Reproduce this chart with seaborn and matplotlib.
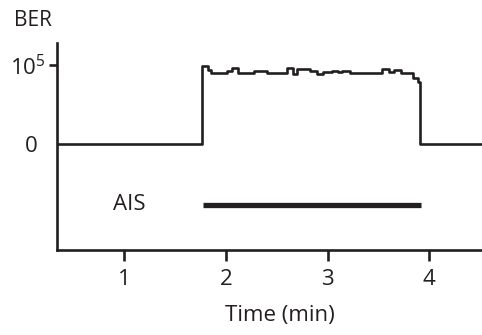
import numpy as np
import pandas as pd
import matplotlib
matplotlib.use("Agg")
import matplotlib.pyplot as plt
import matplotlib.transforms as mtransforms
import seaborn as sns

# BER trace (time in min, level in units of 10^5), step-post
tempo = [0.335, 1.765, 1.824, 1.854, 2.012, 2.061, 2.120, 2.278, 2.357, 2.406,
         2.603, 2.662, 2.702, 2.830, 2.899, 2.958, 3.047, 3.106, 3.145, 3.224,
         3.540, 3.600, 3.649, 3.718, 3.836, 3.886, 3.910, 4.52]
ber = [0.0, 0.99, 0.94, 0.90, 0.93, 0.96, 0.90, 0.93, 0.92, 0.90,
       0.96, 0.88, 0.95, 0.92, 0.89, 0.91, 0.93, 0.91, 0.93, 0.90,
       0.95, 0.91, 0.94, 0.90, 0.84, 0.78, 0.0, 0.0]

# AIS alarm interval
ais_inicio = 1.775
ais_fim = 3.915
ais_nivel = -0.77

xticks = [1, 2, 3, 4]
ytick_labels = ["0", r"$\mathregular{10^5}$"]

COR = "#231f20"

sns.set_style("ticks")
plt.rcParams["font.family"] = ["Open Sans", "DejaVu Sans"]
plt.rcParams["mathtext.fontset"] = "custom"
plt.rcParams["mathtext.rm"] = "Open Sans"

fig = plt.figure(figsize=(4.82, 3.35), dpi=100)
ax = fig.add_axes([0.118, 0.254, 0.882, 0.618])

df = pd.DataFrame({"Tempo": tempo, "BER": ber})
sns.lineplot(data=df, x="Tempo", y="BER", ax=ax, color=COR, lw=1.9,
             drawstyle="steps-post", sort=False)

df_ais = pd.DataFrame({"Tempo": [ais_inicio, ais_fim], "BER": [ais_nivel, ais_nivel]})
sns.lineplot(data=df_ais, x="Tempo", y="BER", ax=ax, color=COR, lw=3.8,
             solid_capstyle="butt")
ax.text(0.89, ais_nivel, "AIS", fontsize=16, color=COR, ha="left", va="center")

ax.set_xlim(0.335, 4.52)
ax.set_ylim(-1.34, 1.28)
ax.set_xticks(xticks)
ax.set_xticklabels([str(t) for t in xticks])
ax.set_yticks([0, 1])
ax.set_yticklabels(ytick_labels)
ax.yaxis.get_major_ticks()[0].tick1line.set_visible(False)

sns.despine(ax=ax)
for lado in ["left", "bottom"]:
    ax.spines[lado].set_linewidth(1.9)
    ax.spines[lado].set_color(COR)

ax.tick_params(axis="x", length=8, width=1.9, color=COR, pad=6,
               labelsize=16, labelcolor=COR)
ax.tick_params(axis="y", length=6, width=1.9, color=COR, pad=2,
               labelsize=16, labelcolor=COR)

# the "0" label sits a bit further left than 10^5 in the original
desloc = mtransforms.ScaledTranslation(-8 / 100, 0, fig.dpi_scale_trans)
zero_lbl = ax.get_yticklabels()[0]
zero_lbl.set_transform(zero_lbl.get_transform() + desloc)

ax.set_xlabel("Time (min)", fontsize=16, color=COR, va="center")
ax.xaxis.set_label_coords(0.524, -0.318)
ax.set_ylabel("")
fig.text(0.03, 0.94, "BER", fontsize=15, color=COR, ha="left", va="center")

fig.savefig("out.png", dpi=100)
